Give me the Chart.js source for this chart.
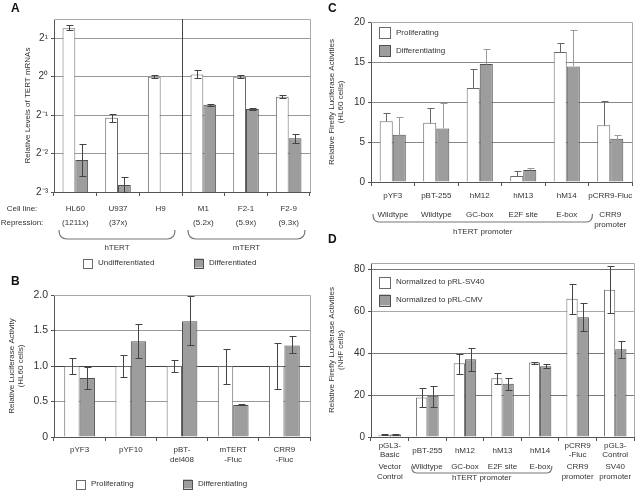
<!DOCTYPE html>
<html>
<head>
<meta charset="utf-8">
<script src="https://cdn.jsdelivr.net/npm/chart.js@4.4.1/dist/chart.umd.min.js"></script>
<style>
body { margin: 0; background: #fff; }
#fig { position: relative; width: 640px; height: 491px; overflow: hidden; }
canvas { position: absolute; }
.tag { position: absolute; font: bold 12px Arial, "Liberation Sans", sans-serif; color: #111; }
</style>
</head>
<body>
<div id="fig">
  <canvas id="chartA" width="320" height="275" style="left:0;top:0"></canvas>
  <canvas id="chartB" width="320" height="216" style="left:0;top:275px"></canvas>
  <canvas id="chartC" width="320" height="245" style="left:320px;top:0"></canvas>
  <canvas id="chartD" width="320" height="246" style="left:320px;top:245px"></canvas>
  <div class="tag" style="left:11px;top:1px">A</div>
  <div class="tag" style="left:11px;top:274px">B</div>
  <div class="tag" style="left:328px;top:1px">C</div>
  <div class="tag" style="left:328px;top:232px">D</div>
</div>
<script>
// ---- A: TERT mRNA, log2 scale ----
var cellLines = ['HL60', 'U937', 'H9', 'M1', 'F2-1', 'F2-9'];
var repression = ['(1211x)', '(37x)', '', '(5.2x)', '(5.9x)', '(9.3x)'];
var undiffA = [2.39, 0.476, 1.0, 1.042, 1.0, 0.697];
var undiffAHigh = [2.53, 0.507, 1.03, 1.133, 1.025, 0.72];
var undiffALow = [2.31, 0.441, 0.97, 0.98, 0.975, 0.675];
var diffA = [0.223, 0.142, null, 0.603, 0.559, 0.33];
var diffAHigh = [0.298, 0.163, null, 0.615, 0.572, 0.358];
var diffALow = [0.166, 0.125, null, 0.593, 0.547, 0.301];
var log2Ticks = [0.125, 0.25, 0.5, 1, 2];
var log2Labels = ['2\u207B\u00B3', '2\u207B\u00B2', '2\u207B\u00B9', '2\u2070', '2\u00B9'];

// ---- B: luciferase, HL60 ----
var constructsB = ['pYF3', 'pYF10', ['pBT-', 'del408'], ['mTERT', '-Fluc'], ['CRR9', '-Fluc']];
var prolifB = [1, 1, 1, 1, 1];
var prolifBHigh = [1.11, 1.15, 1.08, 1.24, 1.33];
var prolifBLow = [0.89, 0.85, 0.91, 0.75, 0.67];
var diffB = [0.83, 1.35, 1.63, 0.45, 1.29];
var diffBHigh = [0.99, 1.59, 1.99, 0.46, 1.42];
var diffBLow = [0.68, 1.11, 1.29, 0.45, 1.19];

// ---- C: firefly luciferase, HL60 ----
var constructsC = ['pYF3', 'pBT-255', 'hM12', 'hM13', 'hM14', 'pCRR9-Fluc'];
var sitesC = ['Wildtype', 'Wildtype', 'GC-box', 'E2F site', 'E-box', ['CRR9', 'promoter']];
var prolifC = [7.6, 7.4, 11.75, 0.75, 16.25, 7.1];
var prolifCHigh = [8.6, 9.25, 14.1, 1.33, 17.35, 10.17];
var diffC = [5.9, 6.7, 14.75, 1.5, 14.45, 5.4];
var diffCHigh = [8.1, 9.9, 16.6, 1.75, 19.05, 5.9];

// ---- D: firefly luciferase, NHF ----
var constructsD = [['pGL3-', 'Basic'], 'pBT-255', 'hM12', 'hM13', 'hM14', ['pCRR9', '-Fluc'], ['pGL3-', 'Control']];
var sitesD = [['Vector', 'Control'], 'Wildtype', 'GC-box', 'E2F site', 'E-box', ['CRR9', 'promoter'], ['SV40', 'promoter']];
var sv40D = [1.1, 18.9, 35.2, 28, 35.5, 65.9, 70.2];
var sv40DHigh = [1.3, 23.2, 39.8, 30.6, 36, 73, 81.8];
var sv40DLow = [0.9, 14.4, 30.2, 25.1, 35, 58.7, 59];
var cmvD = [1.2, 19.7, 37.1, 25.4, 33.8, 57.1, 41.9];
var cmvDHigh = [1.4, 24.3, 42.4, 28.3, 34.6, 63.7, 45.8];
var cmvDLow = [1.0, 14.4, 31.7, 22.4, 33, 50.6, 37.6];

var FONT = 'Arial, "Liberation Sans", Helvetica, sans-serif';
Chart.defaults.font.family = FONT;
Chart.defaults.color = '#333';
Chart.defaults.animation = false;
Chart.defaults.plugins.legend.display = false;
Chart.defaults.plugins.tooltip.enabled = false;

var WHITE = '#ffffff', GREY = '#9d9d9d';

function whiteSet(label, data, hi, lo, errColor) {
    return { label: label, data: data, errHigh: hi, errLow: lo, errColor: errColor || '#444',
        backgroundColor: WHITE, borderColor: '#6a6a6a', borderWidth: 1,
        categoryPercentage: 0.6, barPercentage: 1.0 };
}
function greySet(label, data, hi, lo, errColor) {
    return { label: label, data: data, errHigh: hi, errLow: lo, errColor: errColor || '#444',
        backgroundColor: GREY, borderColor: '#505050', borderWidth: 1,
        categoryPercentage: 0.6, barPercentage: 1.0 };
}

// error bars (both sides when errLow given, top only otherwise)
var errorBars = {
    id: 'errorBars',
    afterDatasetsDraw: function(chart) {
        var ctx = chart.ctx, y = chart.scales.y;
        chart.data.datasets.forEach(function(ds, i) {
            if (!ds.errHigh) return;
            var meta = chart.getDatasetMeta(i);
            ctx.save();
            ctx.strokeStyle = ds.errColor;
            ctx.lineWidth = 1;
            meta.data.forEach(function(bar, j) {
                var hi = ds.errHigh[j];
                if (hi == null) return;
                var lo = ds.errLow ? ds.errLow[j] : ds.data[j];
                var x = Math.round(bar.x) + 0.5;
                var yh = Math.round(y.getPixelForValue(hi)) + 0.5;
                var yl = Math.round(y.getPixelForValue(lo)) + 0.5;
                ctx.beginPath();
                ctx.moveTo(x, yh); ctx.lineTo(x, yl);
                ctx.moveTo(x - 3, yh); ctx.lineTo(x + 4, yh);
                if (ds.errLow) { ctx.moveTo(x - 3, yl); ctx.lineTo(x + 4, yl); }
                ctx.stroke();
            });
            ctx.restore();
        });
    }
};

// light top/right frame of the plot
var frame = {
    id: 'frame',
    beforeDatasetsDraw: function(chart) {
        var a = chart.chartArea, ctx = chart.ctx;
        ctx.save();
        ctx.strokeStyle = '#aaa';
        ctx.lineWidth = 1;
        ctx.beginPath();
        ctx.moveTo(a.left, Math.round(a.top) + 0.5);
        ctx.lineTo(Math.round(a.right) + 0.5, Math.round(a.top) + 0.5);
        ctx.lineTo(Math.round(a.right) + 0.5, a.bottom);
        ctx.stroke();
        ctx.restore();
    }
};

function brace(ctx, x1, x2, yTop, yBot, r) {
    ctx.beginPath();
    ctx.moveTo(x1, yTop);
    ctx.quadraticCurveTo(x1, yBot, x1 + r, yBot);
    ctx.lineTo(x2 - r, yBot);
    ctx.quadraticCurveTo(x2, yBot, x2, yTop);
    ctx.stroke();
}

function lines(ctx, text, x, y, lh) {
    [].concat(text).forEach(function(t, k) { ctx.fillText(t, x, y + k * lh); });
}

function key(ctx, x, y, size, ds) {
    ctx.fillStyle = ds.backgroundColor;
    ctx.fillRect(x, y - size / 2, size, size);
    ctx.strokeStyle = ds.borderColor;
    ctx.lineWidth = 1;
    ctx.strokeRect(Math.round(x) + 0.5, Math.round(y - size / 2) + 0.5, size, size);
    ctx.fillStyle = '#333';
    ctx.textAlign = 'left';
    ctx.fillText(ds.label, x + size + 6, y);
}

function fixAxis(size, isX) {
    return function(axis) {
        if (isX) axis.height = size; else axis.width = size;
        axis.paddingLeft = 0; axis.paddingRight = 0;
        axis.paddingTop = 0; axis.paddingBottom = 0;
    };
}

// ================= A =================
new Chart(document.getElementById('chartA'), {
    type: 'bar',
    data: {
        labels: cellLines.map(function(c, i) { return [c, repression[i]]; }),
        datasets: [
            whiteSet('Undifferentiated', undiffA, undiffAHigh, undiffALow),
            greySet('Differentiated', diffA, diffAHigh, diffALow)
        ]
    },
    options: {
        responsive: false,
        layout: { padding: { top: 19, right: 10, left: 0, bottom: 0 } },
        scales: {
            x: {
                afterFit: fixAxis(83, true),
                ticks: { font: { size: 8, lineHeight: 1.71 }, padding: 6, autoSkip: false, maxRotation: 0 },
                grid: { drawOnChartArea: false, tickLength: 4, color: '#555' },
                border: { color: '#555' }
            },
            y: {
                type: 'logarithmic',
                min: 0.125,
                max: 2.83,
                afterBuildTicks: function(axis) {
                    axis.ticks = log2Ticks.map(function(v) { return { value: v }; });
                },
                afterFit: fixAxis(54, false),
                ticks: {
                    font: { size: 10 },
                    padding: 3,
                    callback: function(v) { return log2Labels[log2Ticks.indexOf(v)]; }
                },
                grid: { color: '#999', tickLength: 3, tickColor: '#555' },
                border: { color: '#555' },
                title: { display: true, text: 'Relative Levels of TERT mRNAs', font: { size: 8 }, padding: { top: 23 } }
            }
        }
    },
    plugins: [frame, errorBars, {
        id: 'notesA',
        beforeDatasetsDraw: function(chart) {
            var x = chart.scales.x, a = chart.chartArea, ctx = chart.ctx;
            var xm = Math.round((x.getPixelForValue(2) + x.getPixelForValue(3)) / 2) + 0.5;
            ctx.save();
            ctx.strokeStyle = '#444';
            ctx.beginPath(); ctx.moveTo(xm, a.top); ctx.lineTo(xm, a.bottom); ctx.stroke();
            ctx.restore();
        },
        afterDraw: function(chart) {
            var x = chart.scales.x, a = chart.chartArea, ctx = chart.ctx;
            var step = (a.right - a.left) / cellLines.length;
            ctx.save();
            ctx.font = '8px ' + FONT;
            ctx.fillStyle = '#333';
            ctx.textAlign = 'center';
            ctx.textBaseline = 'middle';
            ctx.fillText('Cell line:', 22, 209);
            ctx.fillText('Repression:', 22, 222.7);
            ctx.strokeStyle = '#777';
            ctx.lineWidth = 1.2;
            var h1 = x.getPixelForValue(0) - step / 2 + 5, h2 = x.getPixelForValue(2) + step / 2 - 7;
            var m1 = x.getPixelForValue(3) - step / 2 + 6, m2 = x.getPixelForValue(5) + step / 2 - 5;
            brace(ctx, h1, h2, 230, 239, 8);
            brace(ctx, m1, m2, 230, 239, 8);
            ctx.fillText('hTERT', (h1 + h2) / 2, 248);
            ctx.fillText('mTERT', (m1 + m2) / 2, 248);
            var ds = chart.data.datasets;
            key(ctx, 83, 263, 9, ds[0]);
            key(ctx, 194, 263, 9, ds[1]);
            ctx.restore();
        }
    }]
});

// ================= B =================
new Chart(document.getElementById('chartB'), {
    type: 'bar',
    data: {
        labels: constructsB,
        datasets: [
            whiteSet('Proliferating', prolifB, prolifBHigh, prolifBLow),
            greySet('Differentiating', diffB, diffBHigh, diffBLow)
        ]
    },
    options: {
        responsive: false,
        layout: { padding: { top: 20, right: 10, left: 0, bottom: 0 } },
        scales: {
            x: {
                afterFit: fixAxis(54, true),
                ticks: { font: { size: 8, lineHeight: 1.25 }, padding: 4, autoSkip: false, maxRotation: 0 },
                grid: { drawOnChartArea: false, tickLength: 4, color: '#555' },
                border: { color: '#555' }
            },
            y: {
                min: 0,
                max: 2,
                afterFit: fixAxis(54, false),
                ticks: {
                    stepSize: 0.5,
                    font: { size: 10.5 },
                    padding: 3,
                    callback: function(v) { return v === 0 ? '0' : v.toFixed(1); }
                },
                grid: {
                    tickLength: 3,
                    tickColor: '#555',
                    color: function(c) { return c.tick && c.tick.value === 1 ? '#444' : '#999'; }
                },
                border: { color: '#555' },
                title: { display: true, text: ['Relative Luciferase Activity', '(HL60 cells)'],
                    font: { size: 8, lineHeight: 1.125 }, padding: { top: 7.5 } }
            }
        }
    },
    plugins: [frame, errorBars, {
        id: 'notesB',
        afterDraw: function(chart) {
            var ctx = chart.ctx, ds = chart.data.datasets;
            ctx.save();
            ctx.font = '8px ' + FONT;
            ctx.textBaseline = 'middle';
            key(ctx, 76, 209, 9, ds[0]);
            key(ctx, 183, 209, 9, ds[1]);
            ctx.restore();
        }
    }]
});

// ================= C =================
new Chart(document.getElementById('chartC'), {
    type: 'bar',
    data: {
        labels: constructsC,
        datasets: [
            whiteSet('Proliferating', prolifC, prolifCHigh, null, '#666'),
            greySet('Differentiating', diffC, diffCHigh, null, '#999')
        ]
    },
    options: {
        responsive: false,
        layout: { padding: { top: 22, right: 8, left: 0, bottom: 0 } },
        scales: {
            x: {
                afterFit: fixAxis(63, true),
                ticks: { font: { size: 8, lineHeight: 1.25 }, padding: 5, autoSkip: false, maxRotation: 0 },
                grid: { drawOnChartArea: false, tickLength: 4, color: '#555' },
                border: { color: '#555' }
            },
            y: {
                min: 0,
                max: 20,
                afterFit: fixAxis(51, false),
                ticks: { stepSize: 5, font: { size: 10 }, padding: 3 },
                grid: { color: '#888', tickLength: 3, tickColor: '#555' },
                border: { color: '#555' },
                title: { display: true, text: ['Relative Firefly Luciferase Activities', '(HL60 cells)'],
                    font: { size: 8, lineHeight: 1.125 }, padding: { top: 7 } }
            }
        }
    },
    plugins: [frame, errorBars, {
        id: 'notesC',
        afterDraw: function(chart) {
            var x = chart.scales.x, a = chart.chartArea, ctx = chart.ctx, ds = chart.data.datasets;
            var step = (a.right - a.left) / constructsC.length;
            ctx.save();
            ctx.font = '8px ' + FONT;
            ctx.fillStyle = '#333';
            ctx.textAlign = 'center';
            ctx.textBaseline = 'middle';
            sitesC.forEach(function(s, i) { lines(ctx, s, x.getPixelForValue(i), 215, 10); });
            ctx.strokeStyle = '#777';
            ctx.lineWidth = 1.2;
            var b1 = x.getPixelForValue(0) - step / 2 + 2, b2 = x.getPixelForValue(4) + step / 2 + 4;
            brace(ctx, b1, b2, 214, 222, 6);
            ctx.fillText('hTERT promoter', (b1 + b2) / 2, 232);
            key(ctx, 59, 32.5, 11, ds[0]);
            key(ctx, 59, 50.5, 11, ds[1]);
            ctx.restore();
        }
    }]
});

// ================= D =================
new Chart(document.getElementById('chartD'), {
    type: 'bar',
    data: {
        labels: constructsD,
        datasets: [
            whiteSet('Normalized to pRL-SV40', sv40D, sv40DHigh, sv40DLow),
            greySet('Normalized to pRL-CMV', cmvD, cmvDHigh, cmvDLow)
        ]
    },
    options: {
        responsive: false,
        layout: { padding: { top: 18, right: 6, left: 0, bottom: 0 } },
        scales: {
            x: {
                afterFit: fixAxis(54, true),
                ticks: { font: { size: 8, lineHeight: 1.1 }, padding: 5, autoSkip: false, maxRotation: 0, crossAlign: 'center' },
                grid: { drawOnChartArea: false, tickLength: 4, color: '#555' },
                border: { color: '#555' }
            },
            y: {
                min: 0,
                max: 83,
                afterFit: fixAxis(51, false),
                ticks: { stepSize: 20, includeBounds: false, font: { size: 10 }, padding: 3 },
                grid: {
                    tickLength: 3,
                    tickColor: '#555',
                    color: function(c) { return c.tick && c.tick.value === 60 ? '#aaa' : '#777'; }
                },
                border: { color: '#555' },
                title: { display: true, text: ['Relative Firefly Luciferase Activities', '(NHF cells)'],
                    font: { size: 8, lineHeight: 1.125 }, padding: { top: 7 } }
            }
        }
    },
    plugins: [frame, errorBars, {
        id: 'notesD',
        afterDraw: function(chart) {
            var x = chart.scales.x, a = chart.chartArea, ctx = chart.ctx, ds = chart.data.datasets;
            var step = (a.right - a.left) / constructsD.length;
            ctx.save();
            ctx.font = '8px ' + FONT;
            ctx.fillStyle = '#333';
            ctx.textAlign = 'center';
            ctx.textBaseline = 'middle';
            sitesD.forEach(function(s, i) { lines(ctx, s, x.getPixelForValue(i), 222, 10); });
            ctx.strokeStyle = '#777';
            ctx.lineWidth = 1.2;
            var b1 = x.getPixelForValue(1) - step / 2 + 3, b2 = x.getPixelForValue(4) + step / 2 - 7;
            brace(ctx, b1, b2, 221, 228, 5);
            ctx.fillText('hTERT promoter', (b1 + b2) / 2, 233);
            key(ctx, 59, 37, 11, ds[0]);
            key(ctx, 59, 55, 11, ds[1]);
            ctx.restore();
        }
    }]
});
</script>
</body>
</html>
